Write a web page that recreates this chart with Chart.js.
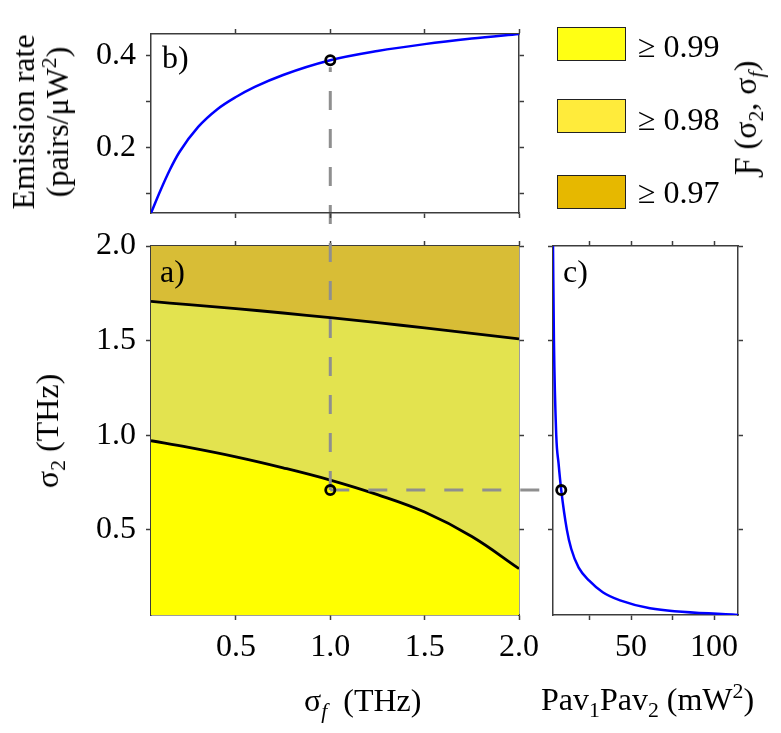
<!DOCTYPE html>
<html>
<head>
<meta charset="utf-8">
<script src="https://cdn.jsdelivr.net/npm/chart.js@4.4.1/dist/chart.umd.min.js"></script>
<style>
  body { margin: 0; background: #fff; }
  #fig { position: relative; width: 781px; height: 733px; overflow: hidden; font-family: 'Liberation Serif', 'Times New Roman', serif; color: #000; }
  #fig canvas { position: absolute; left: 0; top: 0; }
  .txt { position: absolute; font-size: 32px; line-height: 1; white-space: nowrap; }
  .rot { position: absolute; font-size: 32px; line-height: 34px; white-space: nowrap; text-align: center; transform: translate(-50%, -50%) rotate(-90deg); }
  sub, sup { font-size: 0.68em; line-height: 0; }
  .key { position: absolute; left: 557px; width: 67px; height: 32px; border: 1.6px solid #222; }
</style>
</head>
<body>
<div id="fig">
  <canvas id="panelA" width="781" height="733"></canvas>
  <canvas id="panelB" width="781" height="733"></canvas>
  <canvas id="panelC" width="781" height="733"></canvas>

  <div class="txt" style="left:162px; top:41px;">b)</div>
  <div class="txt" style="left:160px; top:255px;">a)</div>
  <div class="txt" style="left:563px; top:255px;">c)</div>

  <div class="rot" style="left:40px; top:122px;">Emission rate<br>(pairs/&mu;W<sup>2</sup>)</div>
  <div class="rot" style="left:47px; top:431px;">&sigma;<sub>2</sub> (THz)</div>
  <div class="txt" style="left:304px; top:684px;">&sigma;<sub><i>f</i></sub>&nbsp; (THz)</div>
  <div class="txt" style="left:541px; top:683px;">Pav<sub>1</sub>Pav<sub>2</sub> (mW<sup>2</sup>)</div>
  <div class="rot" style="left:745px; top:118px;">&#401; (&sigma;<sub>2</sub>, &sigma;<sub><i>f</i></sub>)</div>
  <div id="legend"></div>
</div>

<script>
// sigma_f samples (THz) for panels a) and b)
const sigmaF = [0.05, 0.25, 0.5, 0.75, 1.0, 1.25, 1.5, 1.75, 2.0];
// a) fidelity contour lines, sigma_2 (THz)
const contour099 = [0.971, 0.936, 0.886, 0.828, 0.763, 0.686, 0.594, 0.465, 0.295];
const contour098 = [1.707, 1.690, 1.669, 1.646, 1.621, 1.595, 1.567, 1.538, 1.509];

// b) emission rate (pairs/uW^2)
const rateSigmaF = [0.05, 0.1, 0.15, 0.2, 0.3, 0.4, 0.5, 0.6, 0.75, 1.0, 1.25, 1.5, 1.75, 2.0];
const emissionRate = [0.058, 0.107, 0.152, 0.19, 0.245, 0.283, 0.31, 0.332, 0.358, 0.39, 0.41, 0.425, 0.437, 0.447];

// c) required Pav1*Pav2 (mW^2) against sigma_2
const pavProduct = [3.04, 3.6, 5.0, 6.4, 8.0, 11.4, 14.0, 18.5, 25.0, 33.0, 43.4, 61.4, 114.4];
const pavSigma2 = [2.0, 1.5, 1.0, 0.85, 0.71, 0.5, 0.4, 0.3, 0.23, 0.17, 0.127, 0.086, 0.05];

// working point
const markSigmaF = 1.0;
const markSigma2 = 0.71;
const markRate = 0.39;
const markPav = 8.0;

// ticks
const sigmaRange = [0.05, 2.0];
const sigmaTicks = [0.5, 1.0, 1.5, 2.0];
const sigmaTickLabels = ['0.5', '1.0', '1.5', '2.0'];
const rateTicks = [0.1, 0.2, 0.3, 0.4];
const rateTickLabels = ['', '0.2', '', '0.4'];
const pavTicks = [25, 50, 75, 100];
const pavTickLabels = ['', '50', '', '100'];

const levelLabels = ['\u2265 0.99', '\u2265 0.98', '\u2265 0.97'];

// styles
const SERIF = "'Liberation Serif', 'Times New Roman', serif";
const AXIS = '#3c3c3c';
const BLUE = '#0000ff';
const FILL = ['#ffff00', '#e3e34f', '#d8bd36'];
const KEY = ['#ffff14', '#ffeb3b', '#e6b800'];
const KEY_TOP = [27, 99, 175];
const TEXT_TOP = [30, 103, 176];

const legend = document.getElementById('legend');
levelLabels.forEach((lbl, i) => {
  legend.insertAdjacentHTML('beforeend',
    `<div class="key" style="top:${KEY_TOP[i]}px; background:${KEY[i]};"></div>` +
    `<div class="txt" style="left:638px; top:${TEXT_TOP[i]}px;">${lbl}</div>`);
});

const pts = (xs, ys) => xs.map((x, i) => ({ x: x, y: ys[i] }));

function frame(pos, min, max, ticks, labels, size) {
  const vertical = pos === 'left' || pos === 'right';
  return {
    type: 'linear',
    position: pos,
    min: min,
    max: max,
    bounds: 'data',
    afterBuildTicks: s => { s.ticks = ticks.map(v => ({ value: v })); },
    afterFit: s => {
      if (vertical) s.width = size;
      else s.height = size;
    },
    grid: { drawOnChartArea: false, drawTicks: true, tickLength: 5, tickColor: AXIS, tickWidth: 1.5 },
    border: { display: true, color: AXIS, width: 1.5 },
    ticks: labels ? {
      display: true, autoSkip: false, maxRotation: 0, padding: vertical ? 10 : 8, color: '#000',
      font: { family: SERIF, size: 32 },
      callback: (v, i) => labels[i]
    } : { display: false }
  };
}

function baseOptions(scales) {
  return {
    responsive: false,
    animation: false,
    events: [],
    layout: { padding: 0 },
    plugins: { legend: { display: false }, tooltip: { enabled: false } },
    scales: scales
  };
}

const marker = (x, y) => ({
  data: [{ x: x, y: y }],
  showLine: false,
  pointRadius: 4.6,
  pointBorderWidth: 2.8,
  pointBorderColor: '#000',
  pointBackgroundColor: 'rgba(0,0,0,0)',
  clip: false,
  order: 0
});

// b) emission rate panel
const chartB = new Chart(document.getElementById('panelB'), {
  type: 'line',
  data: {
    datasets: [
      marker(markSigmaF, markRate),
      {
        data: pts(rateSigmaF, emissionRate),
        borderColor: BLUE, borderWidth: 2.5, pointRadius: 0,
        cubicInterpolationMode: 'monotone', order: 1
      }
    ]
  },
  options: baseOptions({
    x: frame('bottom', sigmaRange[0], sigmaRange[1], sigmaTicks, null, 520),
    x2: frame('top', sigmaRange[0], sigmaRange[1], sigmaTicks, null, 34),
    y: frame('left', Math.min(...emissionRate), Math.max(...emissionRate), rateTicks, rateTickLabels, 151),
    y2: frame('right', Math.min(...emissionRate), Math.max(...emissionRate), rateTicks, null, 262)
  })
});

// c) power product panel
const chartC = new Chart(document.getElementById('panelC'), {
  type: 'line',
  data: {
    datasets: [
      marker(markPav, markSigma2),
      {
        data: pts(pavProduct, pavSigma2),
        borderColor: BLUE, borderWidth: 2.5, pointRadius: 0,
        cubicInterpolationMode: 'monotone', order: 1
      }
    ]
  },
  options: baseOptions({
    x: frame('bottom', Math.min(...pavProduct), Math.max(...pavProduct), pavTicks, pavTickLabels, 118),
    x2: frame('top', Math.min(...pavProduct), Math.max(...pavProduct), pavTicks, null, 246),
    y: frame('left', sigmaRange[0], sigmaRange[1], sigmaTicks, null, 553),
    y2: frame('right', sigmaRange[0], sigmaRange[1], sigmaTicks, null, 43)
  })
});

// dashed guides from the working point in a) to b) and c)
const guides = {
  id: 'guides',
  beforeDatasetDraw(chart, args) {
    if (args.index !== 0) return;
    const ctx = chart.ctx;
    const xa = chart.scales.x.getPixelForValue(markSigmaF);
    const ya = chart.scales.y.getPixelForValue(markSigma2);
    const yb = chartB.scales.y.getPixelForValue(markRate);
    const xc = chartC.scales.x.getPixelForValue(markPav);
    ctx.save();
    ctx.strokeStyle = '#8f8f8f';
    ctx.lineWidth = 3;
    ctx.setLineDash([19, 19]);
    ctx.beginPath();
    ctx.moveTo(xa, ya);
    ctx.lineTo(xa, yb + 7);
    ctx.moveTo(xa, ya);
    ctx.lineTo(xc - 7, ya);
    ctx.stroke();
    ctx.restore();
  }
};

// a) fidelity map
const chartA = new Chart(document.getElementById('panelA'), {
  type: 'line',
  data: {
    datasets: [
      marker(markSigmaF, markSigma2),
      {
        data: pts(sigmaF, contour099),
        borderColor: '#000', borderWidth: 2.8, pointRadius: 0,
        tension: 0.4,
        fill: 'start', backgroundColor: FILL[0], order: 1
      },
      {
        data: pts(sigmaF, contour098),
        borderColor: '#000', borderWidth: 2.8, pointRadius: 0,
        tension: 0.4,
        fill: 'end', backgroundColor: FILL[2], order: 1
      },
      {
        data: pts(sigmaF, contour098),
        borderColor: 'rgba(0,0,0,0)', borderWidth: 1, pointRadius: 0,
        tension: 0.4,
        fill: 1, backgroundColor: FILL[1], order: 2
      }
    ]
  },
  options: baseOptions({
    x: frame('bottom', sigmaRange[0], sigmaRange[1], sigmaTicks, sigmaTickLabels, 118),
    x2: frame('top', sigmaRange[0], sigmaRange[1], sigmaTicks, null, 246),
    y: frame('left', sigmaRange[0], sigmaRange[1], sigmaTicks, sigmaTickLabels, 151),
    y2: frame('right', sigmaRange[0], sigmaRange[1], sigmaTicks, null, 262)
  }),
  plugins: [guides]
});
</script>
</body>
</html>
